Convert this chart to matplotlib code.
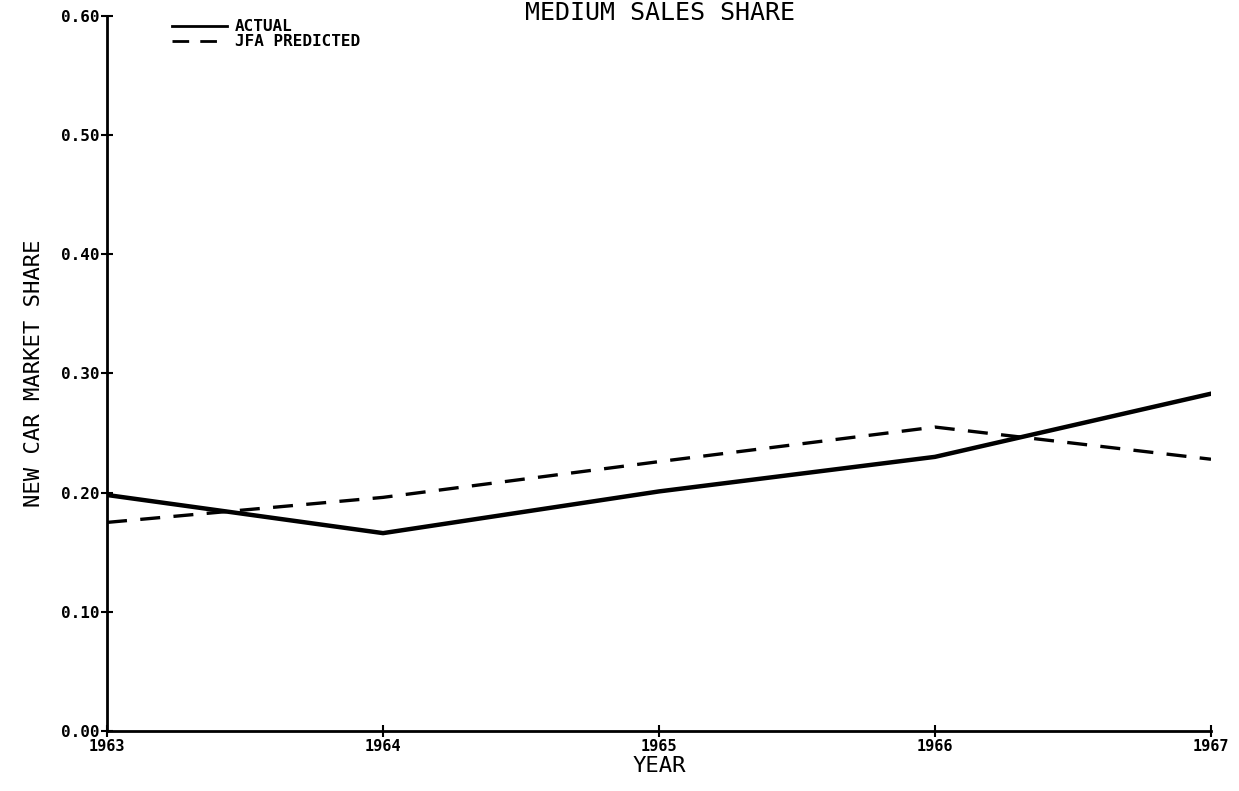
import matplotlib
matplotlib.use("Agg")
import matplotlib.pyplot as plt

years = [1963, 1964, 1965, 1966, 1967]
actual = [0.198, 0.166, 0.201, 0.230, 0.283]
predicted = [0.175, 0.196, 0.226, 0.255, 0.228]
yticks = [0.0, 0.1, 0.2, 0.3, 0.4, 0.5, 0.6]

plt.rcParams['font.family'] = ['DejaVu Sans Mono']

fig = plt.figure(figsize=(12.39, 7.91), dpi=100)
ax = fig.add_axes([0.0864, 0.0759, 0.891, 0.904])

ax.plot(years, actual, color='black', lw=3.2, label='ACTUAL')
ax.plot(years, predicted, color='black', lw=2.4, dashes=(6, 4), label='JFA PREDICTED')

ax.set_xlim(1963, 1967)
ax.set_ylim(0, 0.6)
ax.set_xticks(years)
ax.set_xticklabels([str(y) for y in years], fontsize=11, fontweight='bold')
ax.set_yticks(yticks)
ax.set_yticklabels(['%.2f' % v for v in yticks], fontsize=11.5, fontweight='bold')
ax.tick_params(direction='inout', length=9, width=1.5, pad=1, colors='black')

for s in ['top', 'right']:
    ax.spines[s].set_visible(False)
for s in ['left', 'bottom']:
    ax.spines[s].set_linewidth(2)

ax.set_xlabel('YEAR', fontsize=16, labelpad=2)
ax.set_ylabel('NEW CAR MARKET SHARE', fontsize=16)
ax.yaxis.set_label_coords(-0.066, 0.5)
ax.yaxis.label.set_horizontalalignment('center')
ax.yaxis.label.set_verticalalignment('center')
fig.text(0.533, 1 - 20 / 791, 'MEDIUM SALES SHARE', fontsize=18,
         ha='center', va='baseline')

leg = ax.legend(loc='upper left', bbox_to_anchor=(0.13, 0.99), bbox_transform=fig.transFigure,
                frameon=False, fontsize=11.5, handlelength=3.4, handletextpad=0.5,
                labelspacing=0.0, borderpad=0.2,
                prop={'weight': 'bold', 'size': 11.5})
for line in leg.get_lines():
    line.set_linewidth(2)

fig.savefig('out.png', dpi=100)
